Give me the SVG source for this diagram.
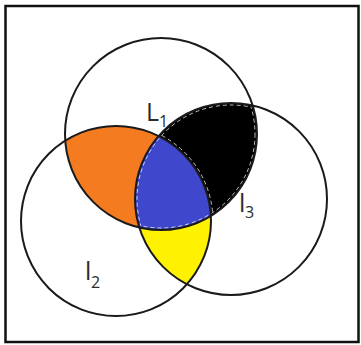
<svg xmlns="http://www.w3.org/2000/svg" width="361" height="345" viewBox="0 0 361 345">
  <style>
    .ring { fill: none; stroke: #1a1a1a; stroke-width: 2; }
    .lbl { font-family: "Open Sans", "Liberation Sans", sans-serif; fill: #2b2b2b; }
    .main { font-size: 25px; }
    .sub { font-size: 16px; }
    .dash { fill: none; stroke: #ffffff; stroke-width: 1; stroke-dasharray: 4 3; opacity: 0.75; }
  </style>
  <defs>
    <clipPath id="c1"><circle cx="161" cy="134" r="96"/></clipPath>
    <clipPath id="c2"><circle cx="116" cy="221" r="95"/></clipPath>
    <clipPath id="c3"><circle cx="231" cy="199" r="96"/></clipPath>
    <clipPath id="c1in"><circle cx="161" cy="134" r="94"/></clipPath>
    <clipPath id="c3in"><circle cx="231" cy="199" r="94"/></clipPath>
  </defs>
  <rect x="5.5" y="6" width="353" height="336" fill="#ffffff" stroke="#111" stroke-width="2.5"/>

  <g id="regions">
    <g id="orange" clip-path="url(#c2)">
      <circle cx="161" cy="134" r="96" fill="#F47B20"/>
    </g>
    <g id="black" clip-path="url(#c3)">
      <circle cx="161" cy="134" r="96" fill="#000000"/>
    </g>
    <g id="yellow" clip-path="url(#c3)">
      <circle cx="116" cy="221" r="95" fill="#FFF200"/>
    </g>
    <g id="blue" clip-path="url(#c3)">
      <g clip-path="url(#c2)">
        <circle cx="161" cy="134" r="96" fill="#3F48CC"/>
      </g>
    </g>
  </g>

  <g id="dashes">
    <g clip-path="url(#c1in)">
      <circle class="dash" cx="231" cy="199" r="94"/>
    </g>
    <g clip-path="url(#c3in)">
      <circle class="dash" cx="161" cy="134" r="94"/>
    </g>
    <g clip-path="url(#c1in)">
      <g clip-path="url(#c3in)">
        <circle class="dash" cx="116" cy="221" r="97"/>
      </g>
    </g>
  </g>

  <g id="circles">
    <circle id="circle-L1" class="ring" cx="161" cy="134" r="96"/>
    <circle id="circle-l2" class="ring" cx="116" cy="221" r="95"/>
    <circle id="circle-l3" class="ring" cx="231" cy="199" r="96"/>
  </g>

  <g id="label-L1" class="lbl">
    <text class="main" x="146" y="121">L</text>
    <text class="sub" x="159" y="127">1</text>
  </g>
  <g id="label-l3" class="lbl">
    <text class="main" x="239" y="212">l</text>
    <text class="sub" x="245" y="218">3</text>
  </g>
  <g id="label-l2" class="lbl">
    <text class="main" x="85" y="280">l</text>
    <text class="sub" x="91" y="288">2</text>
  </g>
</svg>
